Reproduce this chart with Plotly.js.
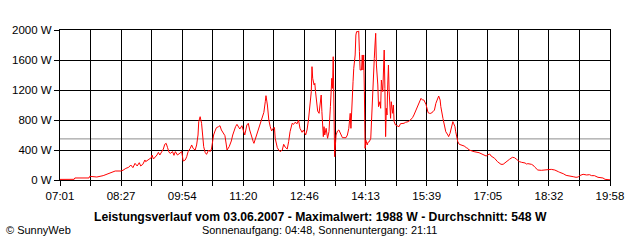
<!DOCTYPE html>
<html>
<head>
<meta charset="utf-8">
<script src="https://cdn.plot.ly/plotly-3.0.1.min.js"></script>
<style>html,body{margin:0;padding:0;background:#fff;}#chart{width:640px;height:240px;}</style>
</head>
<body>
<div id="chart"></div>
<script>
// time of day in minutes since midnight
const minutes = [
421,429,441,442,462,463,472,473,482,489,493,499,507,510,514,518,521,524,527,530,533,535,538,541,542,545,550,
551,553,558,560,562,565,567,569,571,573,575,577,580,582,584,587,590,593,595,598,600,602,605,607,609,612,614,616,617,619,621,623,624,626,628,631,633,635,638,640,642,645,647,649,652,654,656,657,660,663,665,667,669,671,673,675,678,680,682,
685,687,689,691,694,695,697,699,702,704,706,709,711,712,714,716,718,720,722,724,725,728,730,732,735,737,739,742,744,746,749,751,753,756,758,760,763,765,768,770,772,774,776,777,778,780,781,782,784,785,787,788,790,791,793,794,795,797,799,801,802,803,805,806,807,808,809,811,
813,815,818,820,825,827,829,831,832,833,835,836,838,839,840,842,843,844,845,847,848,849,850,851,852,853,855,856,858,860,861,862,864,865,866,867,868,870,871,873,874,875,877,878,879,880,881,882,883,884,885,886,887,888,889,890,891,892,893,895,898,900,902,907,909,913,916,919,921,924,926,928,931,933,935,938,
941,943,945,948,950,952,955,956,958,959,962,964,966,969,970,972,974,976,977,979,980,982,983,985,988,992,995,997,999,1004,1006,1013,1018,1023,1025,1028,1030,1035,1039,1044,1047,1051,1056,1060,1063,1066,1070,
1073,1078,1080,1082,1087,1089,1092,1096,1101,1106,1110,1115,1120,1122,1125,1127,1129,1132,1136,1141,1146,1150,1153,1155,1158,1160,1165,1169,1172,1176,1181,1186,1188,1191,1195,1198
];
// power in W
const power = [
8,9,9,27,27,49,48,40,58,80,98,120,120,130,155,169,200,165,222,187,231,187,209,267,245,267,298,
333,280,333,369,333,378,413,476,489,431,369,356,378,329,378,333,356,378,253,267,311,378,422,467,422,400,467,600,778,844,756,578,444,369,342,400,378,413,600,653,698,711,724,667,622,591,467,400,444,520,600,667,711,742,711,680,724,667,600,
733,756,667,591,511,489,547,600,689,747,800,902,1044,1124,1000,800,711,653,689,700,556,431,400,378,400,476,440,413,511,644,756,742,769,751,800,689,636,667,600,667,800,978,1178,1511,1356,1267,1289,1178,1022,920,889,1000,1133,911,578,711,600,689,556,644,911,978,1356,1222,1644,1000,311,600,
653,667,600,564,564,600,689,889,689,978,1311,1489,1667,1933,1978,1978,1988,1711,1467,1467,1667,1467,1667,1178,422,533,467,502,511,556,778,1178,1533,1622,1800,1956,1533,1267,978,1044,956,1333,1178,1622,1733,1222,578,956,867,1267,1533,1178,1044,822,1044,978,889,1000,778,733,724,711,751,756,769,778,800,831,867,933,1000,1044,1089,1067,1067,1010,
898,889,889,911,933,1022,1089,1120,1067,978,822,733,644,600,578,622,711,778,756,711,644,556,511,476,467,453,431,422,400,391,378,364,347,320,333,347,320,289,245,209,209,245,276,302,298,276,245,
236,227,213,218,209,200,169,133,129,133,142,142,133,120,111,102,98,84,62,58,44,36,40,58,71,76,67,71,58,58,36,31,27,9,4,2
];
const xTickLabels = ["07:01","08:27","09:54","11:20","12:46","14:13","15:39","17:05","18:32","19:58"];
const yTickValues = [0,400,800,1200,1600,2000];
const avgValue = 548;
const dateText = "03.06.2007";
const sunrise = "04:48";
const sunset = "21:11";

const FONT = '"Liberation Sans", Arial, sans-serif';
const start = 421, end = 1198, nGrid = 18;
const tickvals = [], ticktext = [];
for (let k = 0; k <= nGrid; k++) {
  tickvals.push(start + k * (end - start) / nGrid);
  ticktext.push(k % 2 === 0 ? xTickLabels[k / 2] : "");
}
const maxValue = Math.max(...power);

const trace = {
  x: minutes, y: power, type: 'scatter', mode: 'lines',
  line: {color: '#ff0000', width: 1, shape: 'linear'},
  hoverinfo: 'skip'
};

const toPaperY = py => (180 - py) / 150;
const toPaperX = px => (px - 60) / 550;

const layout = {
  width: 640, height: 240,
  margin: {l: 60, r: 30, t: 30, b: 60, pad: 0},
  paper_bgcolor: '#ffffff', plot_bgcolor: '#ffffff',
  showlegend: false,
  font: {family: FONT, size: 11.5, color: '#000'},
  xaxis: {
    range: [start, end], tickmode: 'array', tickvals: tickvals, ticktext: ticktext,
    showgrid: true, gridcolor: '#000', gridwidth: 1,
    showline: true, linecolor: '#000', linewidth: 1, mirror: true,
    ticks: 'outside', ticklen: 5, tickcolor: '#000', tickwidth: 1,
    tickfont: {family: FONT, size: 11.5, color: '#000'},
    zeroline: false, fixedrange: true
  },
  yaxis: {
    range: [0, 2000], tickmode: 'array', tickvals: yTickValues,
    ticktext: yTickValues.map(v => v + ' W'),
    showgrid: true, gridcolor: '#000', gridwidth: 1,
    showline: true, linecolor: '#000', linewidth: 1, mirror: true,
    ticks: 'outside', ticklen: 5, tickcolor: '#000', tickwidth: 1,
    tickfont: {family: FONT, size: 11.5, color: '#000'},
    zeroline: false, fixedrange: true
  },
  shapes: [{
    type: 'line', xref: 'paper', x0: 0, x1: 1, yref: 'y', y0: avgValue, y1: avgValue,
    line: {color: '#8c8c8c', width: 1}, layer: 'between'
  }],
  annotations: [
    {xref: 'paper', yref: 'paper', x: toPaperX(320), y: toPaperY(217), xanchor: 'center', yanchor: 'middle',
     showarrow: false, text: '<b>Leistungsverlauf vom ' + dateText + ' - Maximalwert: ' + maxValue + ' W - Durchschnitt: ' + avgValue + ' W</b>',
     font: {family: FONT, size: 12.2, color: '#000'}},
    {xref: 'paper', yref: 'paper', x: toPaperX(319), y: toPaperY(229.5), xanchor: 'center', yanchor: 'middle',
     showarrow: false, text: 'Sonnenaufgang: ' + sunrise + ', Sonnenuntergang: ' + sunset,
     font: {family: FONT, size: 10.9, color: '#000'}},
    {xref: 'paper', yref: 'paper', x: toPaperX(4), y: toPaperY(229.5), xanchor: 'left', yanchor: 'middle',
     showarrow: false, text: '© SunnyWeb',
     font: {family: FONT, size: 11, color: '#000'}}
  ]
};

Plotly.newPlot('chart', [trace], layout, {staticPlot: true, displayModeBar: false});
</script>
</body>
</html>
